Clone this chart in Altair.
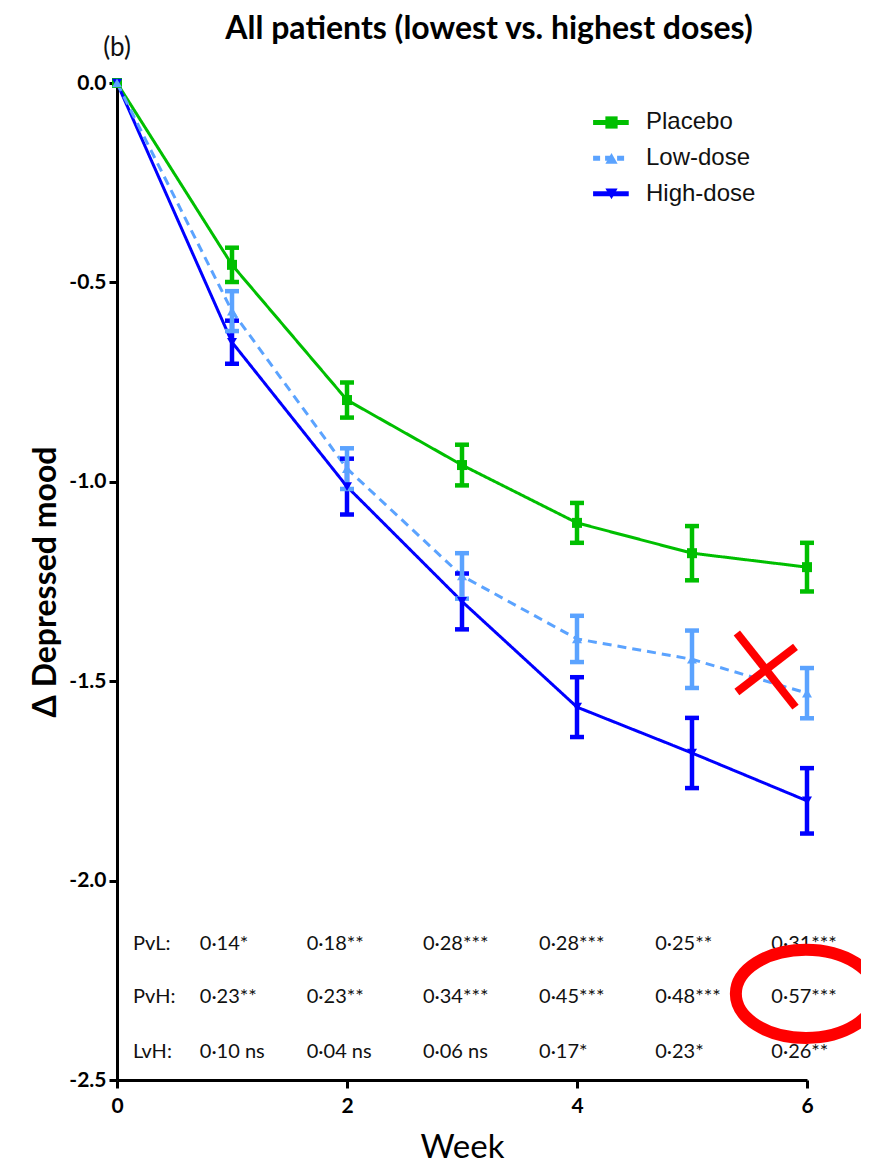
import altair as alt
import pandas as pd

# ---------------- data ----------------
weeks = [0, 1, 2, 3, 4, 5, 6]
series_names = ["Placebo", "Low-dose", "High-dose"]
placebo_mean = [0.0, -0.456, -0.795, -0.958, -1.103, -1.179, -1.214]
placebo_err = [0.0, 0.043, 0.044, 0.051, 0.050, 0.068, 0.061]
low_mean = [0.0, -0.572, -0.967, -1.236, -1.394, -1.445, -1.530]
low_err = [0.0, 0.050, 0.051, 0.057, 0.058, 0.072, 0.063]
high_mean = [0.0, -0.650, -1.012, -1.300, -1.565, -1.680, -1.800]
high_err = [0.0, 0.054, 0.070, 0.070, 0.075, 0.088, 0.082]

# comparison table (effect sizes)
table_rows = ["PvL:", "PvH:", "LvH:"]
table_row_y = [-2.158, -2.291, -2.429]
table_label_x = [0.14]
table_col_x = [0.72, 1.65, 2.66, 3.67, 4.68, 5.69]
pvl_values = ["0·14*", "0·18**", "0·28***", "0·28***", "0·25**", "0·31***"]
pvh_values = ["0·23**", "0·23**", "0·34***", "0·45***", "0·48***", "0·57***"]
lvh_values = ["0·10 ns", "0·04 ns", "0·06 ns", "0·17*", "0·23*", "0·26**"]

# legend placement (data units)
legend_x0 = [4.14]
legend_x1 = [4.45]
legend_marker_x = [4.30]
legend_text_x = [4.60]
legend_y = [-0.099, -0.189, -0.278]

# red annotation marks
cross_x1 = [5.39, 5.39]
cross_y1 = [-1.379, -1.527]
cross_x2 = [5.90, 5.90]
cross_y2 = [-1.565, -1.414]
ellipse_x = [5.99]
ellipse_y = [-2.284]

panel_label = ["(b)"]
panel_label_x = [0.0]
panel_label_y = [0.088]

title_text = ["All patients (lowest vs. highest doses)"]

# ---------------- styles ----------------
colors = {"Placebo": "#00BF00", "Low-dose": "#5BA3FF", "High-dose": "#0000FF"}
shapes = {"Placebo": "square", "Low-dose": "triangle-up", "High-dose": "triangle-down"}
dashes = {"Placebo": [1, 0], "Low-dose": [9, 6], "High-dose": [1, 0]}
legend_dashes = {"Placebo": [1, 0], "Low-dose": [7, 5], "High-dose": [1, 0]}

means = {"Placebo": placebo_mean, "Low-dose": low_mean, "High-dose": high_mean}
errs = {"Placebo": placebo_err, "Low-dose": low_err, "High-dose": high_err}

rows = []
for name in series_names:
    for w, m, e in zip(weeks, means[name], errs[name]):
        rows.append({"series": name, "week": w, "mean": m, "lo": m - e, "hi": m + e, "err": e})
df = pd.DataFrame(rows)

xs = alt.Scale(domain=[0, 6], nice=False, zero=False)
ys = alt.Scale(domain=[-2.5, 0], nice=False, zero=False)

FONT = "Lato"
xaxis = alt.Axis(
    title="Week", values=[0, 2, 4, 6], format="d", grid=False,
    domainColor="black", domainWidth=3, tickColor="black", tickWidth=3, tickSize=8,
    labelFont=FONT, labelFontWeight="bold", labelFontSize=21, labelColor="black",
    labelPadding=7, labelFlush=False,
    titleFont=FONT, titleFontSize=33, titleFontWeight="normal", titleColor="black",
    titlePadding=15,
)
yaxis = alt.Axis(
    title="Δ Depressed mood", values=[0, -0.5, -1.0, -1.5, -2.0, -2.5], grid=False,
    labelExpr="(datum.value < 0 ? '-' : '') + format(abs(datum.value), '.1f')",
    domainColor="black", domainWidth=3, tickColor="black", tickWidth=3, tickSize=8,
    labelFont=FONT, labelFontWeight="bold", labelFontSize=21, labelColor="black",
    labelPadding=3, labelFlush=False,
    titleFont=FONT, titleFontSize=32, titleFontWeight="bold", titleColor="black",
    titlePadding=6,
)


def X(field):
    return alt.X(field, type="quantitative", scale=xs, axis=xaxis)


def Y(field):
    return alt.Y(field, type="quantitative", scale=ys, axis=yaxis)


layers = []
order = ["Placebo", "High-dose", "Low-dose"]
for name in order:
    d = df[df.series == name]
    c = colors[name]
    layers.append(alt.Chart(d).mark_line(color=c, strokeWidth=3, strokeDash=dashes[name]).encode(
        x=X("week"), y=Y("mean")))
for name in order:
    d = df[(df.series == name) & (df.err > 0)]
    c = colors[name]
    base = alt.Chart(d)
    layers.append(base.mark_rule(color=c, strokeWidth=4.5, opacity=1).encode(x=X("week"), y=Y("lo"), y2="hi"))
    layers.append(base.mark_tick(color=c, thickness=4.5, size=14, orient="horizontal", opacity=1).encode(
        x=X("week"), y=Y("lo")))
    layers.append(base.mark_tick(color=c, thickness=4.5, size=14, orient="horizontal", opacity=1).encode(
        x=X("week"), y=Y("hi")))
for name in order:
    d = df[df.series == name]
    c = colors[name]
    layers.append(alt.Chart(d).mark_point(shape=shapes[name], filled=True, color=c, size=100, opacity=1).encode(
        x=X("week"), y=Y("mean")))

# legend
leg = pd.DataFrame({"series": series_names, "x0": legend_x0 * 3, "x1": legend_x1 * 3,
                    "mx": legend_marker_x * 3, "tx": legend_text_x * 3, "y": legend_y})
for name in series_names:
    d = leg[leg.series == name]
    c = colors[name]
    b = alt.Chart(d)
    layers.append(b.mark_rule(color=c, strokeWidth=5, strokeDash=legend_dashes[name]).encode(
        x=X("x0"), x2="x1", y=Y("y")))
    layers.append(b.mark_point(shape=shapes[name], filled=True, color=c, size=150, opacity=1).encode(
        x=X("mx"), y=Y("y")))
layers.append(alt.Chart(leg).mark_text(align="left", baseline="middle", font="Liberation Sans", fontSize=24,
                                       color="#111").encode(x=X("tx"), y=Y("y"), text="series:N"))

# comparison table
trows = []
for lab, yy, vals in zip(table_rows, table_row_y, [pvl_values, pvh_values, lvh_values]):
    trows.append({"x": table_label_x[0], "y": yy, "t": lab})
    for cx, v in zip(table_col_x, vals):
        trows.append({"x": cx, "y": yy, "t": v})
tdf = pd.DataFrame(trows)
layers.append(alt.Chart(tdf).mark_text(align="left", baseline="middle", font=FONT, fontSize=20,
                                       color="#111").encode(x=X("x"), y=Y("y"), text="t:N"))

# panel label
pdf = pd.DataFrame({"x": panel_label_x, "y": panel_label_y, "t": panel_label})
layers.append(alt.Chart(pdf).mark_text(align="center", baseline="middle", font=FONT, fontSize=26,
                                       color="#111").encode(x=X("x"), y=Y("y"), text="t:N"))

# chart title (as text so it is placed independently of mark bounds)
ttl = pd.DataFrame({"t": title_text})
layers.append(alt.Chart(ttl).mark_text(align="center", baseline="alphabetic", font=FONT, fontSize=32,
                                       fontWeight="bold", color="black").encode(
    x=alt.value(372), y=alt.value(-44), text="t:N"))

# red cross
cdf = pd.DataFrame({"x1": cross_x1, "y1": cross_y1, "x2": cross_x2, "y2": cross_y2})
layers.append(alt.Chart(cdf).mark_rule(color="#FF0000", strokeWidth=8).encode(
    x=X("x1"), y=Y("y1"), x2="x2", y2="y2"))

# red ellipse
edf = pd.DataFrame({"x": ellipse_x, "y": ellipse_y})
ellipse_path = "M -1 0 A 1 0.63 0 1 1 1 0 A 1 0.63 0 1 1 -1 0 Z"
layers.append(alt.Chart(edf).mark_point(shape=ellipse_path, filled=False, stroke="#FF0000", strokeWidth=12,
                                        size=19600, opacity=1).encode(x=X("x"), y=Y("y")))

chart = alt.layer(*layers).properties(
    width=690, height=997,
    padding={"left": 109, "top": 75, "right": 54, "bottom": 83},
    autosize=alt.AutoSizeParams(type="none"),
).configure(background="white").configure_view(strokeWidth=0, stroke="transparent")

chart.save("out.html", embed_options={"renderer": "svg", "actions": False})
